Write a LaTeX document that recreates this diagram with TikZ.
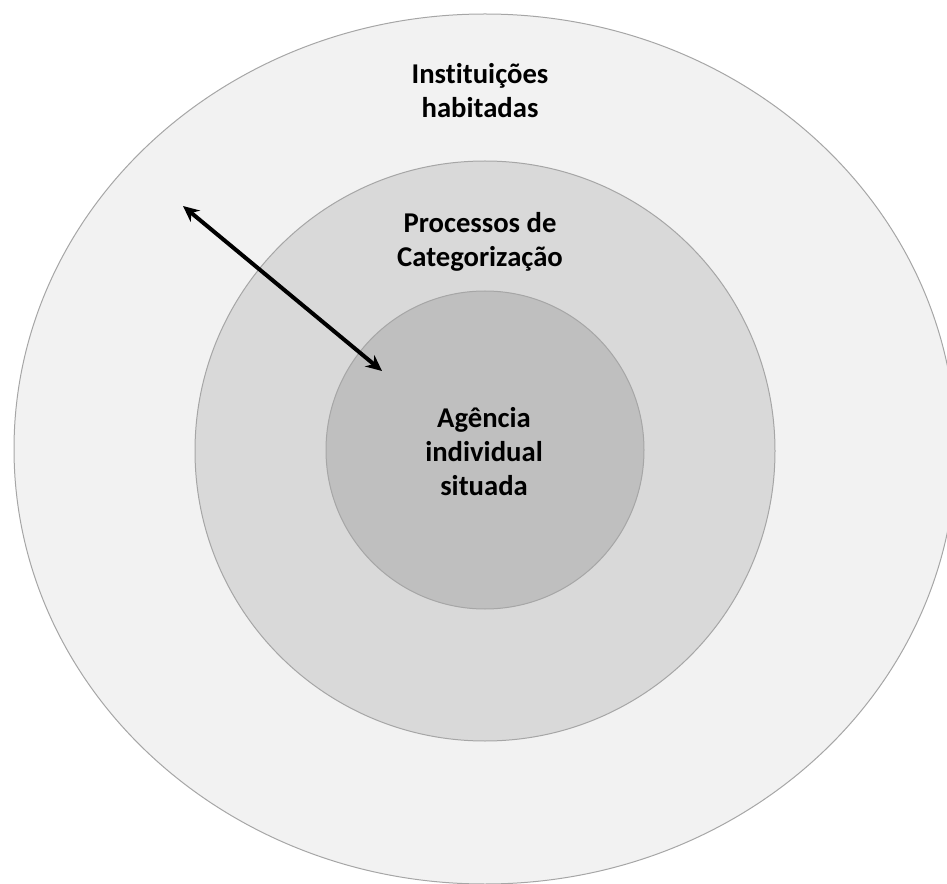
\documentclass[tikz,border=0pt]{standalone}
\usepackage{fontspec}
\setmainfont{Carlito}[Ligatures={NoCommon,NoContextual}]
\usetikzlibrary{arrows.meta}
\definecolor{ringA}{HTML}{F2F2F2}
\definecolor{ringB}{HTML}{D9D9D9}
\definecolor{ringC}{HTML}{BFBFBF}
\definecolor{ringEdge}{HTML}{A6A6A6}
\tikzset{
  label text/.style={anchor=center,inner sep=0.75pt,align=center,font=\fontsize{21.5}{25.5}\selectfont\bfseries},
  ring/.style={draw=ringEdge,line width=0.75pt}
}
\begin{document}
\begin{tikzpicture}[x=0.75pt,y=0.75pt,yscale=-1,xscale=1]
    \useasboundingbox (0,0) rectangle (947,884);

    %Shape: Ellipse [outer] 
    \draw [ring,fill=ringA] (485,449) ellipse (471 and 435);
    %Shape: Circle [middle] 
    \draw [ring,fill=ringB] (485,451) circle (290);
    %Shape: Circle [inner] 
    \draw [ring,fill=ringC] (485,450) circle (159);

    % Text Node
    \node [label text] (inst) at (480,91) {Instituições\\habitadas};
    % Text Node
    \node [label text] (proc) at (480,242) {Processos de\\Categorização};
    % Text Node
    \node [label text] (agen) at (484,452) {Agência\\individual\\situada};

    %Straight Lines [double arrow] 
    \coordinate (tipout) at (183,206);
    \coordinate (tipin) at (382,371);
    \draw [line width=3pt,{Stealth[length=12pt,width=11pt]}-{Stealth[length=12pt,width=11pt]}] (tipout) -- (tipin);
\end{tikzpicture}
\end{document}
